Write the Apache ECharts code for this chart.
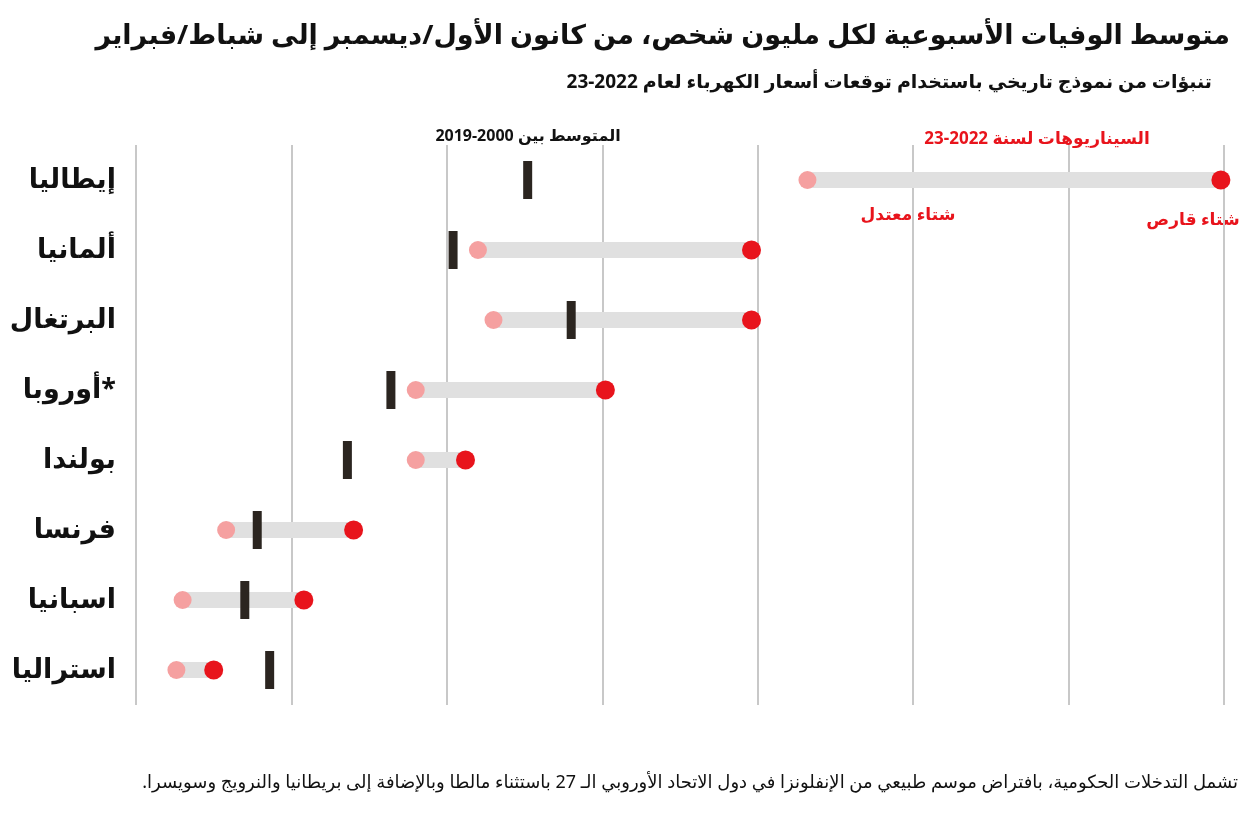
<!DOCTYPE html><html><head><meta charset="utf-8">
<script src="https://cdn.jsdelivr.net/npm/echarts@6/dist/echarts.min.js"></script>
<style>body{margin:0}#c{width:1250px;height:813px}</style></head><body><div id="c"></div><script>
const countries=['إيطاليا','ألمانيا','البرتغال','أوروبا*','بولندا','فرنسا','اسبانيا','استراليا'];
const mild=[216,110,115,90,90,29,15,13];
const severe=[349,198,198,151,106,70,54,25];
const avg=[126,102,140,82,68,39,35,43];
const F='"Noto Sans","DejaVu Sans",sans-serif';
const chart=echarts.init(document.getElementById('c'));
function T(x,y,text,font,fill,align){return {type:'text',x:x,y:y,style:{text:text,font:font,fill:fill,align:align,verticalAlign:'middle'}};}
chart.setOption({
 animation:false,
 grid:{left:136,right:26,top:145,bottom:108},
 xAxis:{type:'value',min:0,max:350,interval:50,axisLabel:{show:false},axisLine:{show:false},axisTick:{show:false},
  splitLine:{lineStyle:{color:'#c8c8c8',width:2}}},
 yAxis:{type:'category',data:countries,inverse:true,axisLine:{show:false},axisTick:{show:false},
  axisLabel:{fontFamily:F,fontSize:27,fontWeight:'bold',color:'#111',margin:20,verticalAlign:'middle'}},
 graphic:[
  T(1230,36,'متوسط الوفيات الأسبوعية لكل مليون شخص، من كانون الأول/ديسمبر إلى شباط/فبراير','bold 27px '+F,'#111','right'),
  T(1212,83,'تنبؤات من نموذج تاريخي باستخدام توقعات أسعار الكهرباء لعام 2022-23','bold 19px '+F,'#111','right'),
  T(528,136,'المتوسط بين 2000-2019','bold 16px '+F,'#111','center'),
  T(1037,139,'السيناريوهات لسنة 2022-23','bold 17px '+F,'#e8141c','center'),
  T(908,215,'شتاء معتدل','bold 17px '+F,'#e8141c','center'),
  T(1193,220,'شتاء قارص','bold 17px '+F,'#e8141c','center'),
  T(1238,783,'.تشمل التدخلات الحكومية، بافتراض موسم طبيعي من الإنفلونزا في دول الاتحاد الأوروبي الـ 27 باستثناء مالطا وبالإضافة إلى بريطانيا والنرويج وسويسرا','18px '+F,'#111','right')
 ],
 series:[
  {type:'custom',data:countries.map((c,i)=>[mild[i],severe[i],i]),encode:{x:[0,1],y:2},
   renderItem:(p,api)=>{const a=api.coord([api.value(0),api.value(2)]),b=api.coord([api.value(1),api.value(2)]);
    return {type:'rect',shape:{x:a[0],y:a[1]-8,width:b[0]-a[0],height:16},style:{fill:'#e0e0e0'}};}},
  {type:'scatter',data:mild.map((v,i)=>[v,i]),symbolSize:18,itemStyle:{color:'#f5a0a0',opacity:1}},
  {type:'scatter',data:severe.map((v,i)=>[v,i]),symbolSize:19,itemStyle:{color:'#e8141c',opacity:1}},
  {type:'scatter',data:avg.map((v,i)=>[v,i]),symbol:'rect',symbolSize:[9,38],itemStyle:{color:'#2b2520',opacity:1},z:5}
 ]
});
</script></body></html>
